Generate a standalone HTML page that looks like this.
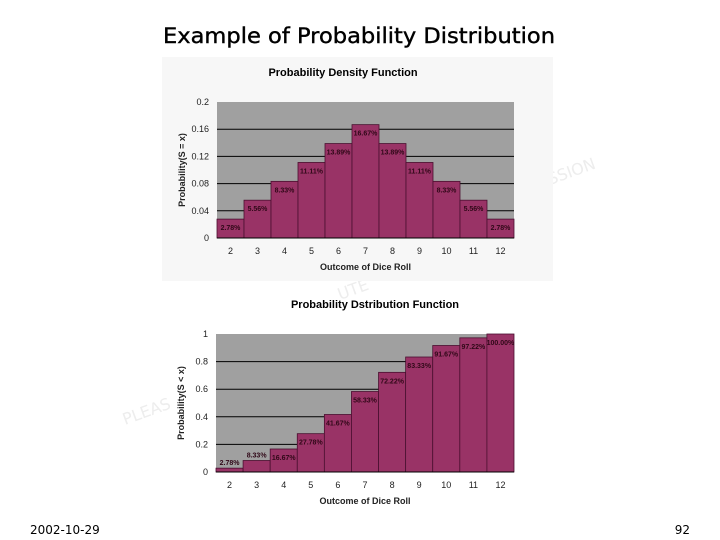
<!DOCTYPE html>
<html><head><meta charset="utf-8">
<style>
html,body{margin:0;padding:0;background:#fff;}
svg{display:block;font-family:"Liberation Sans",Arial,sans-serif;}
</style></head>
<body>
<svg id="root" width="720" height="540" viewBox="0 0 720 540">
  <text x="359" y="43" text-anchor="middle" font-family="DejaVu Sans,sans-serif" font-size="21" stroke="#000" stroke-width="0.4" textLength="392" lengthAdjust="spacingAndGlyphs" fill="#000">Example of Probability Distribution</text>
  <g fill="#ededed" font-size="16" font-family="DejaVu Sans,sans-serif">
    <text x="550" y="185" transform="rotate(-20 550 185)">SSION</text>
    <text x="340" y="300" transform="rotate(-20 340 300)">UTE</text>
    <text x="125" y="425" transform="rotate(-20 125 425)">PLEAS</text>
  </g>
  <rect x="162" y="57" width="391" height="224" fill="#f7f7f7"/>
  <text x="343" y="76" text-anchor="middle" font-size="11" font-weight="bold">Probability Density Function</text>
  <text x="375" y="308" text-anchor="middle" font-size="11" font-weight="bold">Probability Dstribution Function</text>
  <g id="chart1"></g>
  <g id="chart2"></g>
  <text x="30" y="534" font-family="DejaVu Sans,sans-serif" font-size="12">2002-10-29</text>
  <text x="690" y="534" text-anchor="end" font-family="DejaVu Sans,sans-serif" font-size="12">92</text>
</svg>
<script>
const categories = ["2","3","4","5","6","7","8","9","10","11","12"];
const pdfValues = [0.0278,0.0556,0.0833,0.1111,0.1389,0.1667,0.1389,0.1111,0.0833,0.0556,0.0278];
const pdfLabels = ["2.78%","5.56%","8.33%","11.11%","13.89%","16.67%","13.89%","11.11%","8.33%","5.56%","2.78%"];
const pdfTicks = [0,0.04,0.08,0.12,0.16,0.2];
const cdfValues = [0.0278,0.0833,0.1667,0.2778,0.4167,0.5833,0.7222,0.8333,0.9167,0.9722,1.0];
const cdfLabels = ["2.78%","8.33%","16.67%","27.78%","41.67%","58.33%","72.22%","83.33%","91.67%","97.22%","100.00%"];
const cdfTicks = [0,0.2,0.4,0.6,0.8,1];

const NS="http://www.w3.org/2000/svg";
function mk(parent,tag,attrs){const e=document.createElementNS(NS,tag);for(const k in attrs)e.setAttribute(k,attrs[k]);parent.appendChild(e);return e;}

function drawChart(g,box,values,labels,ticks,ytitle){
  const x0=box.x0,x1=box.x1,y0=box.y0,y1=box.y1;
  const ymax=ticks[ticks.length-1];
  const yScale=v=>y1-(v/ymax)*(y1-y0);
  const bw=(x1-x0)/categories.length;
  const xScale=i=>x0+i*bw;
  const plot=mk(g,'rect',{x:x0,y:y0,width:x1-x0,height:y1-y0,fill:'#a0a0a0'});
  
  
  ticks.forEach((t,i)=>{
    const y=yScale(t);
    if(i>0&&i<ticks.length-1){
      const l=mk(g,'line',{x1:x0,x2:x1,y1:y,y2:y,stroke:'#000','stroke-width':1});
      
      
    }
    const tx=mk(g,'text',{x:x0-8,y:y+3,'text-anchor':'end','font-size':9,fill:'#222'});
    tx.textContent=String(t);
    
    
  });
  values.forEach((v,i)=>{
    const x=xScale(i),y=yScale(v);
    const r=mk(g,'rect',{x:x,y:y,width:bw,height:y1-y,fill:'#993366',stroke:'#4a1030','stroke-width':0.8});
    
    
    const ly = (y1-y)<12 ? y-3 : y+11;
    const lt=mk(g,'text',{x:x+bw/2,y:ly,'text-anchor':'middle','font-size':7,'font-weight':'bold',fill:'#300818'});
    lt.textContent=labels[i];
    
    
    const ct=mk(g,'text',{x:x+bw/2,y:y1+16,'text-anchor':'middle','font-size':9,fill:'#222'});
    ct.textContent=categories[i];
    
    
  });
  const ax=mk(g,'line',{x1:x0,x2:x1,y1:y1,y2:y1,stroke:'#000','stroke-width':1});
  
  
  const xt=mk(g,'text',{x:(x0+x1)/2,y:y1+32,'text-anchor':'middle','font-size':9,'font-weight':'bold',fill:'#222'});
  xt.textContent='Outcome of Dice Roll';
  
  
  const cy=(y0+y1)/2, cx=x0-32;
  const yt=mk(g,'text',{x:cx,y:cy,'text-anchor':'middle','font-size':9,'font-weight':'bold',fill:'#222',transform:'rotate(-90 '+cx+' '+cy+')'});
  yt.textContent=ytitle;
  
  
}
drawChart(document.getElementById('chart1'),{x0:217,x1:514,y0:102,y1:238},pdfValues,pdfLabels,pdfTicks,'Probability(S = x)');
drawChart(document.getElementById('chart2'),{x0:216,x1:514,y0:334,y1:472},cdfValues,cdfLabels,cdfTicks,'Probability(S < x)');
</script>
</body></html>
